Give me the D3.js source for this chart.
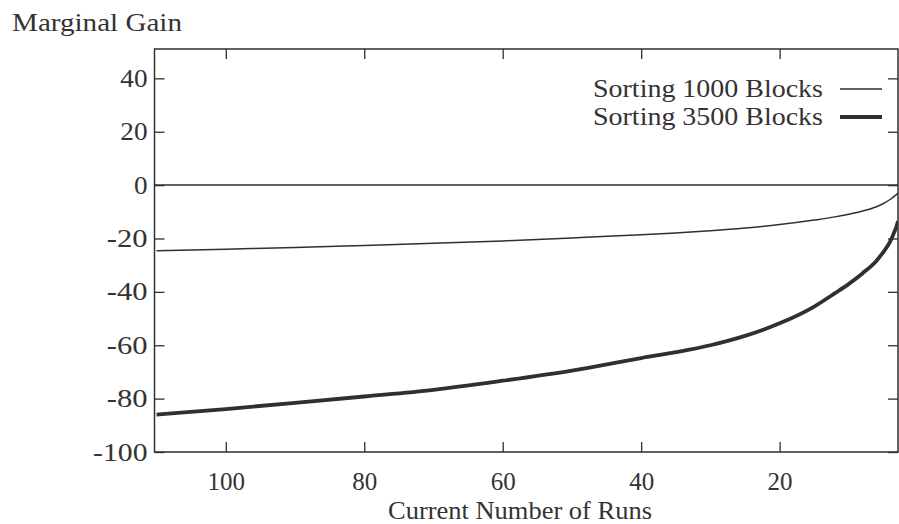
<!DOCTYPE html>
<html>
<head>
<meta charset="utf-8">
<script src="https://cdn.jsdelivr.net/npm/d3@7"></script>
<style>
  html, body { margin: 0; padding: 0; background: #fff; }
  svg { display: block; }
  text { font-family: "Liberation Serif", "Times New Roman", serif; fill: #333; }
</style>
</head>
<body>
<svg id="chart" width="899" height="524"></svg>
<script>
// Current number of runs (x) and the marginal gain for each sort size
const runs     = [110, 100, 90, 80, 70, 60, 50, 40, 35, 30, 25, 20, 15, 12, 10, 8, 6, 5, 4, 3.5, 3, 2.9];
const gain1000 = [-24.6, -24.0, -23.4, -22.6, -21.8, -20.9, -19.8, -18.6, -17.9, -17.1, -16.1, -14.8,
                  -13.1, -11.9, -10.9, -9.7, -8.1, -6.9, -5.3, -4.3, -3.2, -2.9];
const gain3500 = [-86.0, -83.9, -81.6, -79.2, -76.7, -73.3, -69.5, -64.8, -62.6, -60.0, -56.5, -51.8,
                  -45.5, -40.5, -37.0, -33.0, -28.3, -25.0, -21.0, -18.0, -14.5, -13.5];
const seriesNames = ["Sorting 1000 Blocks", "Sorting 3500 Blocks"];
const seriesWidths = [1.5, 3.8];
const xTicks = [100, 80, 60, 40, 20];
const yTicks = [-100, -80, -60, -40, -20, 0, 20, 40];
const xDomain = [110.3, 2.9];
const yDomain = [-100, 51];

const ink = "#2d312f";
const svg = d3.select("#chart");
const plot = { left: 154.5, right: 898, top: 49, bottom: 452 };

const x = d3.scaleLinear().domain(xDomain).range([plot.left, plot.right]);
const y = d3.scaleLinear().domain(yDomain).range([plot.bottom, plot.top]);

svg.append("defs").append("clipPath").attr("id", "plot-clip")
  .append("rect")
  .attr("x", plot.left).attr("y", plot.top)
  .attr("width", plot.right - plot.left).attr("height", plot.bottom - plot.top);

const fontSize = 25;
const plainNumber = d => String(d);   // hyphen-minus, as typeset on the axis

// Axes: inward ticks on all four sides
function styleAxis(g) {
  g.select(".domain").remove();
  g.selectAll(".tick line").attr("stroke", ink).attr("stroke-width", 1.3);
  g.selectAll(".tick text").attr("fill", "#333").style("font-size", fontSize + "px")
    .style("font-family", '"Liberation Serif", "Times New Roman", serif');
}

svg.append("g")
  .attr("transform", `translate(${plot.left},0)`)
  .call(d3.axisLeft(y).tickValues(yTicks).tickSize(-10).tickPadding(7).tickFormat(plainNumber))
  .call(styleAxis)
  .selectAll(".tick text").attr("textLength", d => String(d).length * 13.6)
  .attr("lengthAdjust", "spacingAndGlyphs");

svg.append("g")
  .attr("transform", `translate(${plot.right},0)`)
  .call(d3.axisRight(y).tickValues(yTicks).tickSize(-10).tickFormat(""))
  .call(styleAxis);

svg.append("g")
  .attr("transform", `translate(0,${plot.bottom})`)
  .call(d3.axisBottom(x).tickValues(xTicks).tickSize(-10).tickPadding(20).tickFormat(plainNumber))
  .call(styleAxis);

svg.append("g")
  .attr("transform", `translate(0,${plot.top})`)
  .call(d3.axisTop(x).tickValues(xTicks).tickSize(-10).tickFormat(""))
  .call(styleAxis);

// Zero line
svg.append("line")
  .attr("x1", plot.left).attr("x2", plot.right)
  .attr("y1", y(0)).attr("y2", y(0))
  .attr("stroke", ink).attr("stroke-width", 1.5);

// Curves
const series = [gain1000, gain3500].map((vals, i) => ({
  name: seriesNames[i],
  width: seriesWidths[i],
  points: runs.map((r, j) => [r, vals[j]])
}));

const line = d3.line()
  .x(d => x(d[0]))
  .y(d => y(d[1]))
  .curve(d3.curveMonotoneX);

svg.append("g").attr("clip-path", "url(#plot-clip)")
  .selectAll("path")
  .data(series)
  .join("path")
  .attr("d", d => line(d.points))
  .attr("fill", "none")
  .attr("stroke", ink)
  .attr("stroke-width", d => d.width)
  .attr("stroke-linejoin", "round");

// Frame
svg.append("rect")
  .attr("x", plot.left).attr("y", plot.top)
  .attr("width", plot.right - plot.left).attr("height", plot.bottom - plot.top)
  .attr("fill", "none").attr("stroke", ink).attr("stroke-width", 1.5);

// Legend
const legend = svg.append("g");
const legendRows = [97, 125];
series.forEach((s, i) => {
  legend.append("text")
    .attr("x", 593).attr("y", legendRows[i])
    .attr("textLength", 230).attr("lengthAdjust", "spacingAndGlyphs")
    .style("font-size", (fontSize + 1) + "px")
    .text(s.name);
  legend.append("line")
    .attr("x1", 840).attr("x2", 882)
    .attr("y1", legendRows[i] - 8).attr("y2", legendRows[i] - 8)
    .attr("stroke", ink).attr("stroke-width", s.width);
});

// Axis titles
svg.append("text")
  .attr("x", 12).attr("y", 31)
  .attr("textLength", 170).attr("lengthAdjust", "spacingAndGlyphs")
  .style("font-size", (fontSize + 1) + "px")
  .text("Marginal Gain");

svg.append("text")
  .attr("x", 388).attr("y", 519)
  .attr("textLength", 264).attr("lengthAdjust", "spacingAndGlyphs")
  .style("font-size", fontSize + "px")
  .text("Current Number of Runs");
</script>
</body>
</html>
